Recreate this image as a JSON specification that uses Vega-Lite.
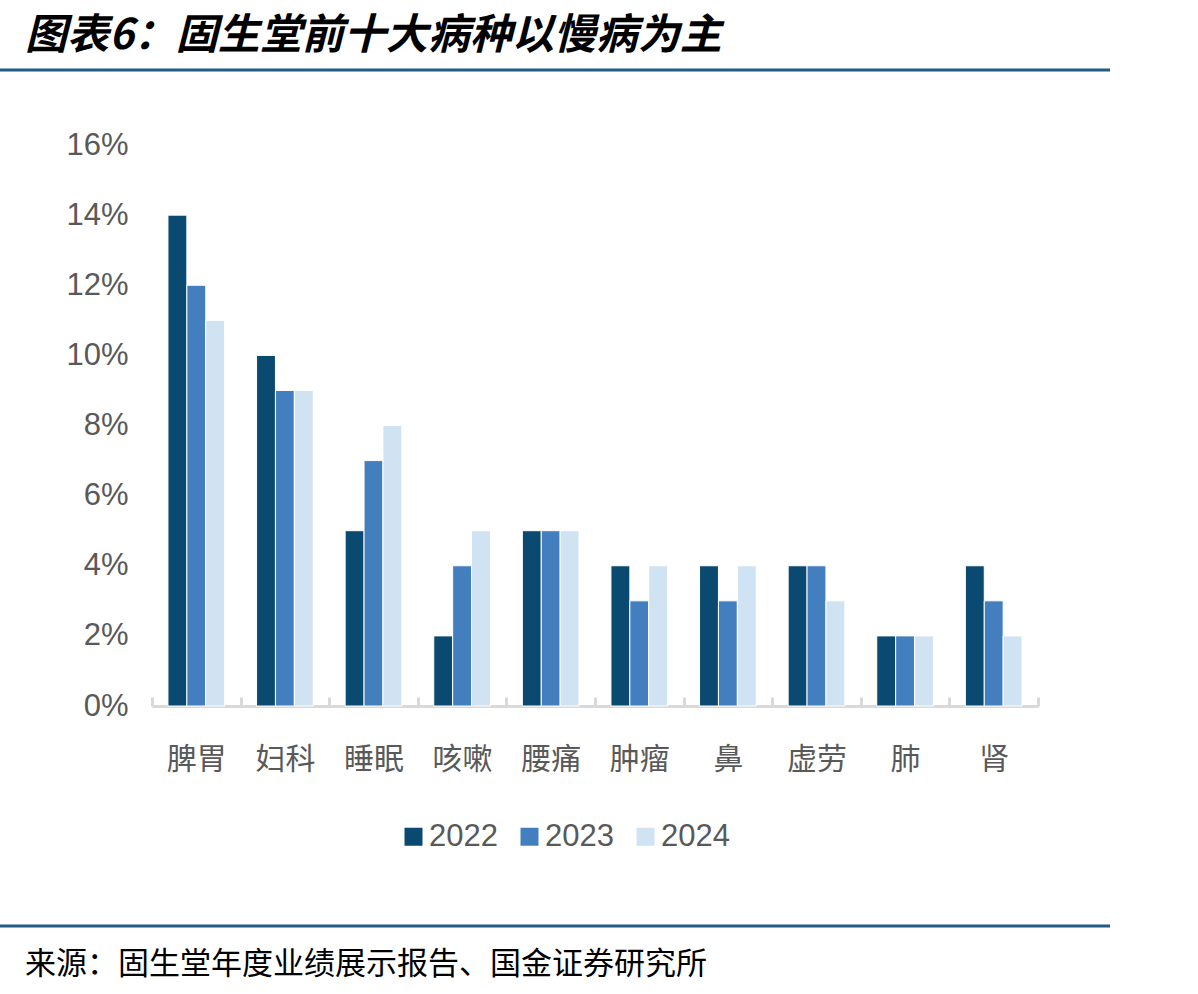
{
  "$schema": "https://vega.github.io/schema/vega-lite/v6.json",
  "width": 886,
  "height": 561,
  "autosize": {"type": "none"},
  "padding": {"left": 152, "top": 145, "right": 160, "bottom": 288},
  "background": "white",
  "config": {"view": {"stroke": null}, "font": "Liberation Sans"},
  "layer": [
    {
      "data": {
        "values": [
          {"category": "脾胃", "year": "2022", "value": 0.14},
          {"category": "脾胃", "year": "2023", "value": 0.12},
          {"category": "脾胃", "year": "2024", "value": 0.11},
          {"category": "妇科", "year": "2022", "value": 0.10},
          {"category": "妇科", "year": "2023", "value": 0.09},
          {"category": "妇科", "year": "2024", "value": 0.09},
          {"category": "睡眠", "year": "2022", "value": 0.05},
          {"category": "睡眠", "year": "2023", "value": 0.07},
          {"category": "睡眠", "year": "2024", "value": 0.08},
          {"category": "咳嗽", "year": "2022", "value": 0.02},
          {"category": "咳嗽", "year": "2023", "value": 0.04},
          {"category": "咳嗽", "year": "2024", "value": 0.05},
          {"category": "腰痛", "year": "2022", "value": 0.05},
          {"category": "腰痛", "year": "2023", "value": 0.05},
          {"category": "腰痛", "year": "2024", "value": 0.05},
          {"category": "肿瘤", "year": "2022", "value": 0.04},
          {"category": "肿瘤", "year": "2023", "value": 0.03},
          {"category": "肿瘤", "year": "2024", "value": 0.04},
          {"category": "鼻", "year": "2022", "value": 0.04},
          {"category": "鼻", "year": "2023", "value": 0.03},
          {"category": "鼻", "year": "2024", "value": 0.04},
          {"category": "虚劳", "year": "2022", "value": 0.04},
          {"category": "虚劳", "year": "2023", "value": 0.04},
          {"category": "虚劳", "year": "2024", "value": 0.03},
          {"category": "肺", "year": "2022", "value": 0.02},
          {"category": "肺", "year": "2023", "value": 0.02},
          {"category": "肺", "year": "2024", "value": 0.02},
          {"category": "肾", "year": "2022", "value": 0.04},
          {"category": "肾", "year": "2023", "value": 0.03},
          {"category": "肾", "year": "2024", "value": 0.02}
        ]
      },
      "mark": {"type": "bar", "stroke": "white", "strokeWidth": 1},
      "encoding": {
        "x": {
          "field": "category",
          "type": "nominal",
          "sort": ["脾胃", "妇科", "睡眠", "咳嗽", "腰痛", "肿瘤", "鼻", "虚劳", "肺", "肾"],
          "scale": {"paddingInner": 0, "paddingOuter": 0},
          "axis": {
            "title": null,
            "labelAngle": 0,
            "labelFont": "Noto Sans CJK SC",
            "labelFontSize": 30,
            "labelColor": "#595959",
            "labelPadding": 47,
            "domainColor": "#D9D9D9",
            "domainWidth": 3,
            "tickColor": "#D9D9D9",
            "tickWidth": 3,
            "tickSize": -9,
            "tickBand": "extent"
          }
        },
        "xOffset": {"field": "year", "type": "nominal", "scale": {"paddingInner": 0, "paddingOuter": 0.844}},
        "y": {
          "field": "value",
          "type": "quantitative",
          "scale": {"domain": [0, 0.16]},
          "axis": {
            "title": null,
            "values": [0, 0.02, 0.04, 0.06, 0.08, 0.1, 0.12, 0.14, 0.16],
            "format": ".0%",
            "domain": false,
            "ticks": false,
            "grid": false,
            "labelFontSize": 31,
            "labelColor": "#595959",
            "labelPadding": 24
          }
        },
        "color": {
          "field": "year",
          "type": "nominal",
          "scale": {"domain": ["2022", "2023", "2024"], "range": ["#0B4A70", "#437FBF", "#D0E3F3"]},
          "legend": {
            "title": null,
            "orient": "none",
            "legendX": 246,
            "legendY": 676,
            "direction": "horizontal",
            "symbolType": "square",
            "symbolSize": 324,
            "symbolStrokeWidth": 0,
            "labelFontSize": 31,
            "labelColor": "#595959",
            "labelOffset": 0,
            "columnPadding": 16
          }
        }
      }
    },
    {
      "data": {"values": [{"y": 0}]},
      "mark": {"type": "rule", "color": "#215D85", "strokeWidth": 3},
      "encoding": {"x": {"value": -152}, "x2": {"value": 958}, "y": {"value": -75}}
    },
    {
      "data": {"values": [{"y": 0}]},
      "mark": {"type": "rule", "color": "#215D85", "strokeWidth": 3},
      "encoding": {"x": {"value": -152}, "x2": {"value": 958}, "y": {"value": 781}}
    },
    {
      "data": {"values": [{"t": "图表6：固生堂前十大病种以慢病为主"}]},
      "mark": {"type": "text", "font": "Noto Sans CJK SC", "fontSize": 42, "fontWeight": "bold", "fontStyle": "italic", "align": "left", "baseline": "alphabetic", "color": "#000000"},
      "encoding": {"x": {"value": -127}, "y": {"value": -96}, "text": {"field": "t"}}
    },
    {
      "data": {"values": [{"t": "来源：固生堂年度业绩展示报告、国金证券研究所"}]},
      "mark": {"type": "text", "font": "Noto Sans CJK SC", "fontSize": 31, "align": "left", "baseline": "middle", "color": "#000000"},
      "encoding": {"x": {"value": -127}, "y": {"value": 820}, "text": {"field": "t"}}
    }
  ]
}
